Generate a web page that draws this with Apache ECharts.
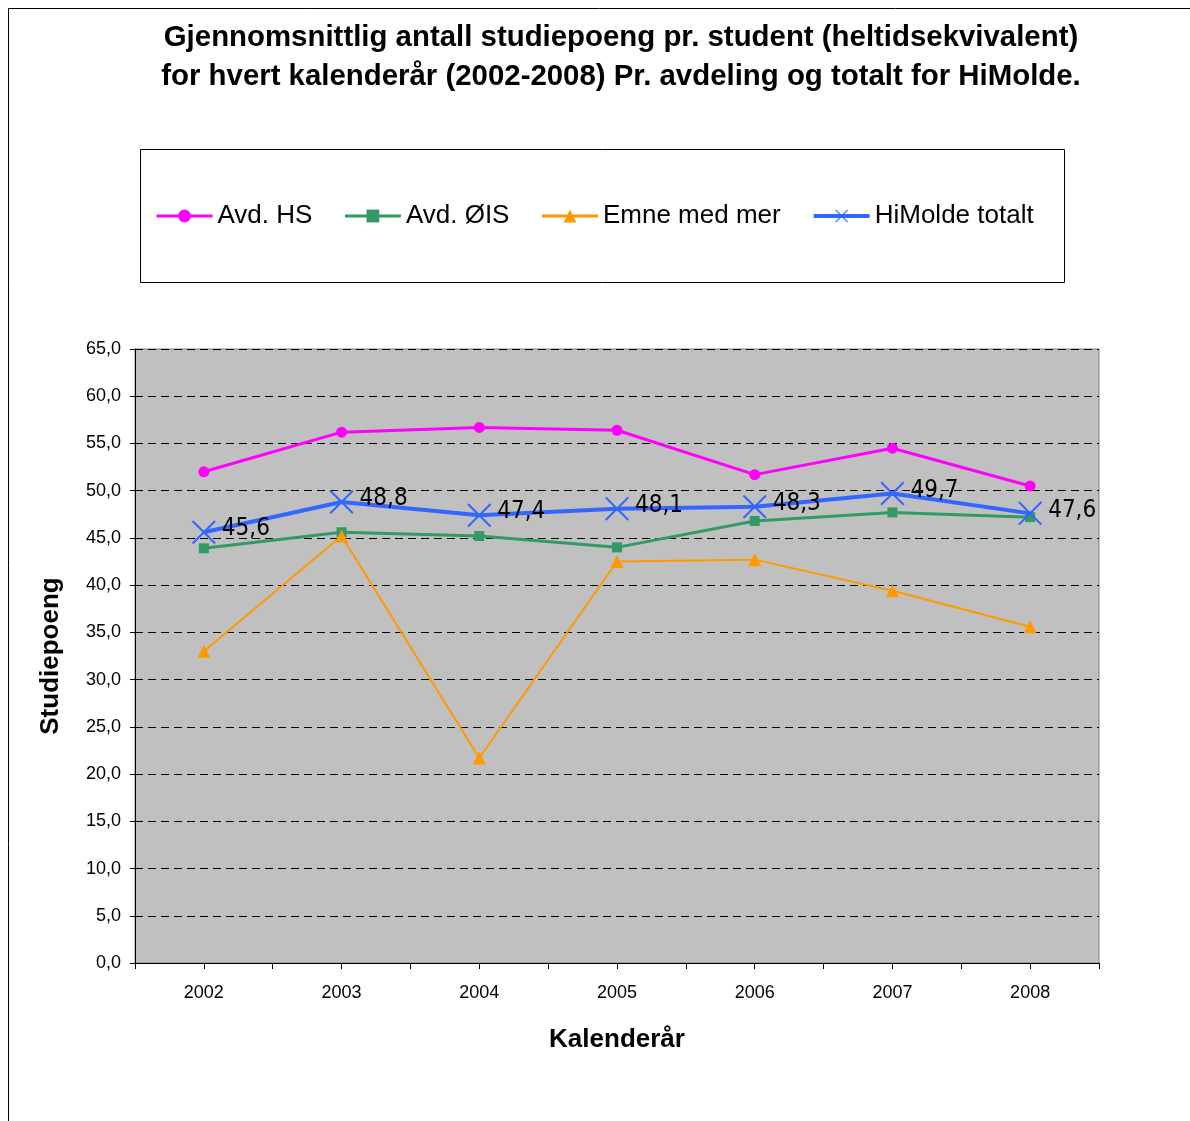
<!DOCTYPE html>
<html><head><meta charset="utf-8">
<script src="https://cdn.jsdelivr.net/npm/echarts@6/dist/echarts.min.js"></script>
<style>html,body{margin:0;padding:0;background:#fff}#c{width:1190px;height:1121px}</style>
</head><body><div id="c"></div>
<script>
const years = [2002, 2003, 2004, 2005, 2006, 2007, 2008];
const avdHS = [52.0, 56.2, 56.7, 56.4, 51.7, 54.5, 50.5];
const avdOIS = [43.9, 45.6, 45.2, 44.0, 46.8, 47.7, 47.2];
const emneMedMer = [33.0, 45.2, 21.7, 42.5, 42.7, 39.4, 35.6];
const himoldeTotalt = [45.6, 48.8, 47.4, 48.1, 48.3, 49.7, 47.6];
const seriesNames = ['Avd. HS', 'Avd. ØIS', 'Emne med mer', 'HiMolde totalt'];
const yTicks = { min: 0, max: 65, interval: 5 };

const pair = arr => years.map((y, i) => [y, arr[i]]);
const fmt = v => v.toFixed(1).replace('.', ',');
const xSym = 'path://M0,0.6 L0.6,0 L10,9.4 L9.4,10 Z M9.4,0 L10,0.6 L0.6,10 L0,9.4 Z';
const colors = ['#ff00ff', '#339966', '#ff9900', '#3366ff'];
const widths = [3, 3, 2, 4];

const chart = echarts.init(document.getElementById('c'));
chart.setOption({
  backgroundColor: '#fff',
  animation: false,
  textStyle: { fontFamily: 'Liberation Sans, Arial, sans-serif' },
  title: {
    text: 'Gjennomsnittlig antall studiepoeng pr. student (heltidsekvivalent)\nfor hvert kalenderår (2002-2008) Pr. avdeling og totalt for HiMolde.',
    left: 616, top: 13, textAlign: 'center',
    textStyle: { fontSize: 29.4, fontWeight: 'bold', color: '#000', lineHeight: 39, fontFamily: 'Liberation Sans, Arial, sans-serif' }
  },
  graphic: [
    { type: 'rect', shape: { x: 8.5, y: 8.5, width: 1300, height: 1300 }, style: { fill: 'none', stroke: '#000', lineWidth: 1 }, z: -10 },
    { type: 'rect', shape: { x: 140.5, y: 149.5, width: 924, height: 133 }, style: { fill: 'none', stroke: '#000', lineWidth: 1 }, z: -10 }
  ],
  legend: {
    left: 150, top: 198,
    itemWidth: 56, itemHeight: 16, itemGap: 31,
    data: seriesNames.map((n, i) => ({ name: n, lineStyle: { width: widths[i] === 4 ? 4 : 3 } })),
    textStyle: { fontSize: 26, color: '#000', fontFamily: 'Liberation Sans, Arial, sans-serif' }
  },
  grid: { left: 135, top: 349, right: 91, bottom: 158, show: true, backgroundColor: '#c0c0c0', borderColor: '#808080', borderWidth: 1 },
  xAxis: {
    type: 'value', min: 2001.5, max: 2008.5, interval: 0.5,
    name: 'Kalenderår', nameLocation: 'middle', nameGap: 64,
    nameTextStyle: { fontSize: 26, fontWeight: 'bold', color: '#000' },
    axisLine: { lineStyle: { color: '#000', width: 1 } },
    axisTick: { show: true, length: 6, inside: false, lineStyle: { color: '#000' } },
    splitLine: { show: false },
    axisLabel: { fontSize: 18, color: '#000', margin: 21,
      formatter: v => Number.isInteger(v) && v >= 2002 && v <= 2008 ? String(v) : '' }
  },
  yAxis: {
    type: 'value', min: yTicks.min, max: yTicks.max, interval: yTicks.interval,
    name: 'Studiepoeng', nameLocation: 'middle', nameGap: 71,
    nameTextStyle: { fontSize: 26, fontWeight: 'bold', color: '#000' },
    axisLine: { show: true, lineStyle: { color: '#000', width: 1 } },
    axisTick: { show: true, length: 5, lineStyle: { color: '#000' } },
    splitLine: { show: true, lineStyle: { color: '#000', type: [8, 5], width: 1 } },
    axisLabel: { fontSize: 18, color: '#000', margin: 14, formatter: v => fmt(v) }
  },
  series: [
    { name: seriesNames[0], type: 'line', data: pair(avdHS), symbol: 'circle', symbolSize: 11,
      lineStyle: { color: colors[0], width: widths[0] }, itemStyle: { color: colors[0] }, z: 3 },
    { name: seriesNames[1], type: 'line', data: pair(avdOIS), symbol: 'rect', symbolSize: 10,
      lineStyle: { color: colors[1], width: widths[1] }, itemStyle: { color: colors[1] }, z: 3 },
    { name: seriesNames[2], type: 'line', data: pair(emneMedMer), symbol: 'triangle', symbolSize: 13,
      lineStyle: { color: colors[2], width: widths[2] }, itemStyle: { color: colors[2] }, z: 3 },
    { name: seriesNames[3], type: 'line', data: pair(himoldeTotalt), symbol: xSym, symbolSize: 24,
      lineStyle: { color: colors[3], width: widths[3] }, itemStyle: { color: colors[3] }, z: 4,
      label: { show: true, position: 'right', distance: 6, offset: [0, -3],
        formatter: p => fmt(p.value[1]),
        fontSize: 24, color: '#000', fontFamily: 'Liberation Sans Narrow, DejaVu Sans Condensed, sans-serif' } }
  ]
});
</script></body></html>
